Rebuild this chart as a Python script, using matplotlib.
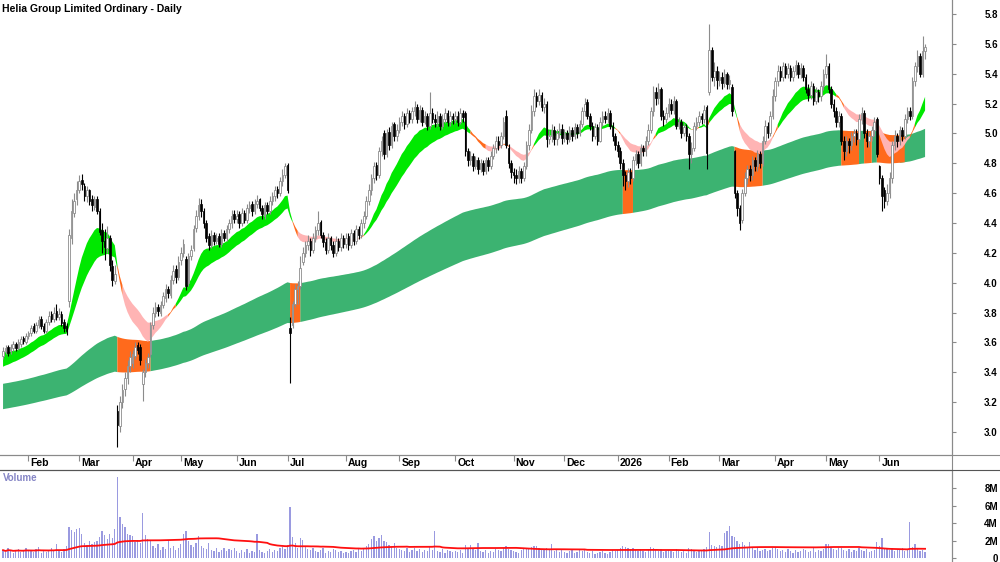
import numpy as np
import pandas as pd
import matplotlib
matplotlib.use("Agg")
import matplotlib.pyplot as plt
from matplotlib.lines import Line2D

plt.rcParams['font.family'] = ['Liberation Sans', 'DejaVu Sans']

# ASX trading days shown on the chart
holidays = ['2025-01-27', '2025-04-18', '2025-04-21', '2025-04-25', '2025-06-09',
            '2025-12-25', '2025-12-26', '2026-01-01', '2026-01-26', '2026-04-03',
            '2026-04-06', '2026-06-08']
dates = pd.bdate_range('2025-01-17', '2026-06-26', freq='C', holidays=holidays)

# prices in cents (one value per trading day)
opens = [
    351, 354, 357, 354, 356, 359, 356, 359, 363, 360,  # Jan 25
    364, 366, 371, 368, 372, 376, 371, 368, 374, 379, 376, 381, 377, 379, 374, 371, 388, 430, 447, 456,  # Feb
    462, 469, 465, 458, 462, 456, 451, 456, 448, 435, 428, 423, 430, 411, 401, 314, 304, 320, 329, 336, 344,  # Mar
    346, 351, 358, 357, 332, 340, 346, 352, 372, 380, 384, 380, 385, 390, 396, 392, 402, 409, 404,  # Apr
    415, 420, 416, 400, 418, 423, 437, 445, 453, 448, 440, 431, 425, 432, 428, 431, 426, 433, 430, 436, 440, 446,  # May
    443, 446, 440, 447, 442, 450, 453, 448, 453, 456, 450, 445, 452, 448, 455, 458, 463, 460, 468, 472,  # Jun
    479, 370, 372, 386, 396, 398, 414, 420, 425, 428, 422, 430, 435, 441, 432, 427, 422, 430, 425, 420, 428, 424, 430,  # Jul
    426, 431, 425, 433, 428, 436, 432, 440, 445, 455, 462, 470, 479, 472, 488, 500, 486, 501, 492, 506, 498,  # Aug
    502, 508, 512, 506, 514, 510, 515, 518, 510, 516, 508, 512, 505, 514, 510, 508, 512, 505, 510, 514, 508, 512,  # Sep
    510, 512, 508, 514, 514, 488, 482, 485, 478, 482, 476, 480, 475, 482, 478, 485, 490, 495, 492, 498, 512, 490, 480,  # Oct
    474, 472, 470, 475, 470, 478, 492, 502, 515, 525, 522, 526, 518, 520, 496, 498, 502, 496, 500, 503,  # Nov
    497, 500, 496, 502, 498, 504, 500, 506, 515, 521, 512, 505, 498, 504, 495, 508, 512, 510, 514, 505, 498,  # Dec
    492, 488, 480, 472, 468, 474, 470, 482, 486, 480, 490, 488, 495, 502, 515, 528, 524, 530, 512, 510,  # Jan 26
    514, 520, 516, 522, 505, 508, 500, 504, 498, 486, 490, 505, 508, 512, 510, 518, 528, 556, 538, 542,  # Feb
    536, 538, 534, 540, 533, 531, 488, 460, 450, 442, 460, 470, 476, 472, 482, 478, 486, 480, 495, 505, 500, 512,  # Mar
    525, 535, 542, 538, 545, 540, 544, 538, 542, 546, 540, 544, 538, 530, 526, 532, 522, 528, 525, 532,  # Apr
    540, 545, 530, 520, 515, 508, 512, 495, 488, 495, 492, 498, 500, 496, 510, 514, 500, 495, 498, 502, 510,  # May
    478, 470, 462, 455, 460, 470, 492, 498, 495, 502, 498, 510, 515, 512, 535, 545, 552, 540, 555,  # Jun
]
highs = [
    357, 358, 358, 359, 361, 360, 362, 364, 364, 366,
    368, 372, 373, 374, 378, 378, 373, 376, 381, 381, 384, 386, 383, 381, 376, 373, 436, 456, 460, 468,
    472, 473, 467, 465, 463, 459, 458, 458, 450, 440, 436, 438, 432, 415, 412, 318, 324, 332, 340, 348, 354,
    355, 360, 360, 359, 342, 349, 353, 374, 384, 387, 386, 388, 394, 399, 398, 405, 412, 412, 418,
    424, 429, 418, 420, 425, 439, 449, 457, 456, 450, 442, 433, 435, 434, 433, 433, 436, 435, 439, 443, 449, 449,
    449, 448, 450, 449, 453, 455, 455, 456, 459, 457, 452, 454, 454, 458, 461, 465, 465, 471, 476, 480,
    480, 377, 388, 399, 401, 418, 424, 428, 432, 430, 433, 438, 448, 442, 434, 430, 433, 431, 428, 431, 430, 433, 432,
    433, 433, 436, 435, 439, 438, 443, 448, 458, 466, 473, 481, 481, 491, 498, 502, 503, 504, 508, 508, 506,
    511, 515, 514, 517, 516, 518, 522, 520, 519, 518, 515, 514, 528, 517, 513, 515, 514, 513, 517, 516, 515, 514,
    515, 515, 517, 516, 515, 490, 488, 487, 485, 484, 483, 482, 484, 484, 488, 493, 498, 498, 501, 511, 516, 493, 482,
    477, 476, 478, 477, 481, 495, 506, 519, 530, 528, 530, 528, 524, 522, 502, 506, 505, 503, 507, 506,
    503, 502, 505, 504, 507, 506, 509, 518, 524, 523, 514, 508, 507, 506, 511, 515, 515, 517, 516, 508, 500,
    495, 491, 483, 475, 477, 477, 485, 489, 488, 493, 492, 498, 506, 518, 532, 531, 534, 531, 516, 518,
    524, 523, 525, 523, 511, 510, 507, 506, 500, 494, 508, 511, 515, 514, 519, 519, 573, 558, 548, 545,
    542, 541, 543, 541, 539, 533, 489, 462, 452, 463, 474, 479, 479, 485, 484, 489, 488, 498, 509, 508, 515, 530,
    538, 546, 545, 548, 547, 547, 546, 545, 549, 548, 547, 546, 540, 533, 535, 534, 531, 530, 535, 543,
    553, 547, 532, 523, 518, 515, 514, 498, 498, 497, 501, 503, 503, 513, 518, 516, 503, 501, 505, 511, 511,
    479, 472, 464, 466, 474, 495, 502, 500, 505, 504, 513, 518, 518, 538, 548, 556, 554, 565, 560,
]
lows = [
    349, 352, 351, 352, 354, 354, 355, 357, 359, 359,
    362, 364, 366, 366, 370, 369, 366, 366, 372, 374, 374, 375, 375, 371, 367, 365, 384, 426, 444, 452,
    460, 462, 455, 454, 452, 448, 449, 446, 432, 420, 415, 420, 408, 398, 399, 290, 300, 316, 324, 332, 340,
    343, 349, 352, 345, 321, 337, 343, 350, 369, 377, 378, 378, 383, 387, 390, 390, 399, 400, 402,
    412, 417, 395, 398, 415, 421, 434, 442, 444, 437, 427, 422, 423, 425, 426, 424, 424, 428, 428, 433, 437, 440,
    440, 437, 438, 440, 440, 447, 445, 446, 450, 448, 443, 443, 446, 446, 452, 455, 457, 458, 465, 470,
    460, 333, 370, 384, 386, 396, 412, 417, 422, 418, 420, 427, 432, 430, 424, 419, 420, 422, 417, 418, 421, 421, 423,
    423, 422, 423, 425, 426, 429, 430, 437, 443, 452, 459, 467, 469, 470, 485, 483, 484, 489, 490, 495, 495,
    500, 505, 503, 504, 507, 507, 512, 507, 508, 505, 506, 502, 503, 507, 504, 505, 502, 503, 507, 505, 505, 506,
    507, 505, 506, 508, 485, 478, 479, 475, 476, 473, 474, 472, 473, 475, 476, 483, 487, 489, 490, 496, 490, 477, 470,
    467, 466, 467, 467, 468, 476, 489, 500, 512, 518, 519, 515, 514, 491, 493, 494, 492, 492, 497, 493,
    494, 493, 494, 495, 496, 497, 498, 504, 512, 510, 502, 495, 496, 492, 494, 505, 507, 507, 503, 495, 489,
    484, 476, 465, 462, 464, 466, 468, 479, 477, 478, 485, 485, 492, 500, 512, 519, 520, 509, 505, 507,
    511, 513, 513, 503, 503, 497, 498, 495, 476, 480, 488, 502, 505, 506, 507, 476, 526, 535, 532, 530,
    532, 530, 531, 530, 530, 512, 457, 445, 435, 440, 458, 466, 468, 469, 475, 475, 477, 478, 493, 497, 498, 510,
    522, 532, 535, 535, 537, 537, 535, 535, 539, 537, 537, 535, 527, 522, 523, 519, 520, 521, 522, 529,
    537, 527, 517, 511, 504, 504, 492, 482, 485, 487, 489, 494, 492, 494, 506, 497, 491, 491, 495, 498, 484,
    466, 448, 450, 452, 457, 467, 489, 491, 492, 495, 496, 507, 509, 510, 532, 541, 538, 538, 550,
]
closes = [
    354, 356, 353, 357, 359, 356, 360, 362, 361, 364,
    366, 370, 368, 372, 375, 371, 368, 374, 378, 376, 380, 377, 379, 373, 370, 368, 432, 448, 455, 462,
    468, 466, 458, 462, 455, 452, 456, 448, 434, 428, 424, 430, 412, 402, 406, 305, 320, 328, 336, 344, 350,
    352, 357, 355, 348, 340, 346, 350, 372, 380, 384, 381, 385, 391, 396, 393, 402, 408, 404, 414,
    420, 426, 398, 418, 422, 436, 445, 452, 448, 440, 430, 425, 432, 428, 430, 426, 433, 430, 436, 440, 445, 443,
    445, 440, 447, 442, 450, 452, 448, 453, 455, 450, 446, 452, 448, 455, 458, 462, 460, 468, 472, 478,
    462, 366, 386, 396, 398, 410, 420, 425, 428, 422, 430, 435, 440, 432, 427, 422, 430, 425, 420, 428, 424, 430, 426,
    430, 425, 433, 428, 436, 432, 440, 445, 455, 462, 470, 478, 472, 488, 495, 486, 500, 492, 505, 498, 502,
    508, 512, 506, 514, 510, 515, 518, 510, 516, 508, 512, 505, 514, 510, 508, 512, 505, 510, 514, 508, 512, 510,
    512, 508, 514, 511, 488, 482, 485, 478, 482, 476, 480, 475, 482, 478, 485, 490, 495, 492, 498, 508, 492, 480, 474,
    472, 470, 475, 470, 478, 492, 502, 515, 525, 522, 526, 518, 520, 496, 498, 502, 496, 500, 503, 497,
    500, 496, 502, 498, 504, 500, 506, 515, 520, 512, 505, 498, 504, 495, 508, 512, 510, 514, 505, 498, 492,
    488, 480, 472, 468, 474, 470, 482, 486, 480, 490, 488, 495, 502, 515, 528, 524, 530, 512, 510, 514,
    520, 516, 522, 505, 508, 500, 504, 498, 486, 490, 505, 508, 512, 510, 516, 487, 556, 538, 542, 536,
    538, 534, 540, 533, 536, 515, 460, 450, 440, 460, 470, 476, 472, 482, 478, 486, 480, 495, 505, 500, 512, 525,
    535, 542, 538, 545, 540, 544, 538, 542, 546, 540, 544, 538, 530, 526, 532, 522, 528, 525, 532, 540,
    545, 530, 520, 515, 508, 512, 495, 488, 495, 492, 498, 500, 496, 510, 514, 500, 495, 498, 502, 508, 486,
    470, 458, 455, 460, 470, 492, 498, 495, 502, 498, 510, 515, 512, 535, 545, 552, 540, 555, 558,
]
# volume in thousands of shares
volumes = [
    900, 700, 1100, 800, 600, 900, 1000, 700, 800, 1200,
    800, 900, 700, 1000, 1300, 600, 800, 700, 900, 1100, 800, 1600, 900, 700, 1000, 1400, 3500, 3200, 3000, 3300,
    3400, 2800, 1700, 1500, 1900, 1600, 1800, 2000, 2400, 3100, 2600, 2200, 2800, 2300, 3300, 9300, 4700, 3900, 3600, 2700, 2600,
    2500, 1800, 2100, 1700, 5100, 2600, 2200, 2000, 1400, 1200, 1600, 900, 1300, 1000, 2100, 1100, 1400, 900, 1200,
    1600, 2800, 3100, 1900, 1500, 1300, 1700, 2500, 1400, 1200, 1000, 1700, 900, 800, 1100, 700, 900, 1200, 800, 1000, 900, 1100,
    800, 600, 900, 700, 1000, 600, 800, 700, 2700, 900, 700, 600, 800, 1000, 700, 900, 800, 1100, 1300, 1000,
    1500, 5800, 2400, 1700, 1200, 2300, 2100, 1300, 1000, 900, 1100, 800, 700, 900, 1200, 600, 800, 700, 1000, 900, 700, 800, 600,
    700, 600, 800, 900, 700, 1000, 800, 1100, 1400, 1600, 2200, 2500, 1900, 2300, 2600, 2000, 1800, 1500, 1300, 1700, 1200,
    1000, 900, 800, 1200, 700, 900, 1100, 800, 1000, 700, 900, 800, 1300, 900, 3100, 800, 700, 1000, 600, 900, 800, 700,
    800, 700, 900, 600, 1500, 1200, 1500, 1000, 900, 1700, 800, 700, 900, 600, 800, 700, 1000, 900, 800, 1100, 1400, 1000, 900,
    800, 700, 600, 900, 1000, 1200, 1100, 1300, 1400, 1400, 1200, 1000, 900, 1100, 1000, 1600, 800, 900, 700, 1000,
    700, 600, 800, 900, 600, 700, 900, 800, 1000, 700, 600, 800, 500, 600, 700, 800, 600, 500, 700, 900, 800,
    900, 1200, 1400, 1300, 1100, 1000, 1200, 900, 800, 1000, 800, 700, 900, 1300, 1100, 900, 800, 1000, 700, 800,
    900, 800, 700, 1000, 800, 700, 900, 600, 1200, 1000, 800, 700, 900, 800, 1000, 1300, 3000, 1500, 1400, 1300,
    1500, 1400, 2900, 3100, 3700, 2500, 2400, 1900, 1600, 1800, 1500, 1300, 1800, 1100, 900, 1200, 800, 900, 1000, 800, 900, 1200,
    1300, 1000, 800, 900, 700, 1000, 800, 600, 900, 700, 800, 1000, 900, 700, 800, 1100, 700, 900, 800, 1000,
    1600, 1600, 1200, 1000, 900, 1100, 1200, 900, 800, 1000, 700, 900, 800, 1100, 900, 800, 1000, 700, 800, 900, 1800,
    1400, 2300, 1200, 1000, 900, 1100, 800, 1000, 900, 1200, 800, 1000, 4100, 1300, 1600, 1000, 800, 900, 700,
]

# moving-average ribbons: spans and the levels they start from (left edge of chart)
short_spans = [16, 18, 20, 22, 25, 29]
short_seed = [3.53, 3.51, 3.49, 3.47, 3.45, 3.43]
long_spans = [150, 170, 190, 210, 235, 260]
long_seed = [3.32, 3.29, 3.26, 3.22, 3.19, 3.15]

n = len(closes)
assert len(opens) == len(highs) == len(lows) == len(volumes) == n == len(dates)

o = np.array(opens) / 100
h = np.array(highs) / 100
l = np.array(lows) / 100
c = np.array(closes) / 100
v = np.array(volumes) * 1000.0
x = np.arange(n)


def ema(vals, span, seed):
    a = 2 / (span + 1)
    e = seed
    out = []
    for val in vals:
        e = e + a * (val - e)
        out.append(e)
    return np.array(out)


S = np.vstack([ema(c, s, z) for s, z in zip(short_spans, short_seed)])
L = np.vstack([ema(c, s, z) for s, z in zip(long_spans, long_seed)])


def ext(mask):
    m = mask.copy()
    m[1:] |= mask[:-1]
    return m


GREEN = '#00e800'
PINK = '#ffb4b4'
ORANGE = '#ff6a1c'
DKGREEN = '#3cb371'

fig = plt.figure(figsize=(10, 5.62), dpi=100)
ax = fig.add_axes([0, 1 - 455 / 562, 0.952, 455 / 562])
axv = fig.add_axes([0, 0, 0.952, 92 / 562])

# long ribbon
ltop, lbot = L.max(0), L.min(0)
inside = c < ltop
ax.fill_between(x, lbot, ltop, where=ext(~inside), color=DKGREEN, lw=0, zorder=1)
ax.fill_between(x, lbot, ltop, where=ext(inside), color=ORANGE, lw=0, zorder=1)

# short ribbon
d = np.diff(S, axis=0)
bull = (d < 0).all(0)
bear = (d > 0).all(0)
mixed = ~(bull | bear)
stop, sbot = S.max(0), S.min(0)
ax.fill_between(x, sbot, stop, where=ext(bull), color=GREEN, lw=0, zorder=2)
ax.fill_between(x, sbot, stop, where=ext(bear), color=PINK, lw=0, zorder=2)
ax.fill_between(x, sbot, stop, where=ext(mixed), color=ORANGE, lw=0, zorder=2)

# candles
up = c >= o
ax.vlines(x[up], l[up], h[up], color='#8c8c8c', lw=0.8, zorder=3)
ax.vlines(x[~up], l[~up], h[~up], color='black', lw=0.8, zorder=3)
ax.bar(x[up], (c - o)[up], bottom=o[up], width=0.62, color='white',
       edgecolor='#8c8c8c', lw=0.6, zorder=4)
ax.bar(x[~up], (o - c)[~up], bottom=c[~up], width=0.62, color='black',
       edgecolor='black', lw=0.5, zorder=4)

ax.set_xlim(-1.2, 373.6)
ax.set_ylim(2.846, 5.894)
for sp in ['left', 'top']:
    ax.spines[sp].set_visible(False)
for sp in ['right', 'bottom']:
    ax.spines[sp].set_color('#8a8a8a')

ax.yaxis.tick_right()
yt = np.round(np.arange(3.0, 5.81, 0.2), 1)
ax.set_yticks(yt)
ax.set_yticklabels([f"{t:.1f}" for t in yt])
ax.tick_params(axis='y', direction='out', length=3, pad=30, labelsize=7, color='#8a8a8a')
for lbl in ax.get_yticklabels():
    lbl.set_ha('right')
    lbl.set_fontweight('bold')

# month ticks and labels
per = dates.to_period('M')
starts = [i for i in range(1, n) if per[i] != per[i - 1]]
ax.set_xticks(starts)
ax.set_xticklabels([])
ax.tick_params(axis='x', direction='out', length=4, color='#8a8a8a')
for i in starts:
    dt = dates[i]
    lab = str(dt.year) if dt.month == 1 else dt.strftime('%b')
    ax.annotate(lab, xy=(i, 0), xycoords=ax.get_xaxis_transform(), xytext=(2, -7.5),
                textcoords='offset pixels', ha='left', va='center', fontsize=7.5,
                fontweight='bold', annotation_clip=False)

ax.text(2, 553, 'Helia Group Limited Ordinary - Daily', transform=None, fontsize=7.5,
        fontweight='bold', ha='left', va='center')

# volume panel
axv.bar(x, v, width=0.5, color='#9a9ae0', lw=0)
vma = pd.Series(v).rolling(60, min_periods=1).mean()
axv.plot(x, vma, color='#ff1010', lw=1.3)
axv.set_xlim(-1.2, 373.6)
axv.set_ylim(-0.457e6, 10.06e6)
axv.set_xticks([])
for sp in ['left', 'bottom']:
    axv.spines[sp].set_visible(False)
axv.spines['top'].set_color('#555555')
axv.spines['right'].set_color('#8a8a8a')
axv.yaxis.tick_right()
vt = [0, 2e6, 4e6, 6e6, 8e6]
axv.set_yticks(vt)
axv.set_yticklabels(['0', '2M', '4M', '6M', '8M'])
axv.tick_params(axis='y', direction='out', length=3, pad=30, labelsize=7, color='#8a8a8a')
for lbl in axv.get_yticklabels():
    lbl.set_ha('right')
    lbl.set_fontweight('bold')
axv.text(3, 84, 'Volume', transform=None, fontsize=7, fontweight='bold',
         color='#8585c5', ha='left', va='center')

fig.add_artist(Line2D([0.952, 0.952], [0, 1], transform=fig.transFigure, color='#8a8a8a', lw=0.8))
fig.add_artist(Line2D([0, 1], [1 - 455 / 562] * 2, transform=fig.transFigure, color='#8a8a8a', lw=0.8))
fig.add_artist(Line2D([0, 1], [92 / 562] * 2, transform=fig.transFigure, color='#555555', lw=0.8))

fig.savefig('out.png', dpi=100)
